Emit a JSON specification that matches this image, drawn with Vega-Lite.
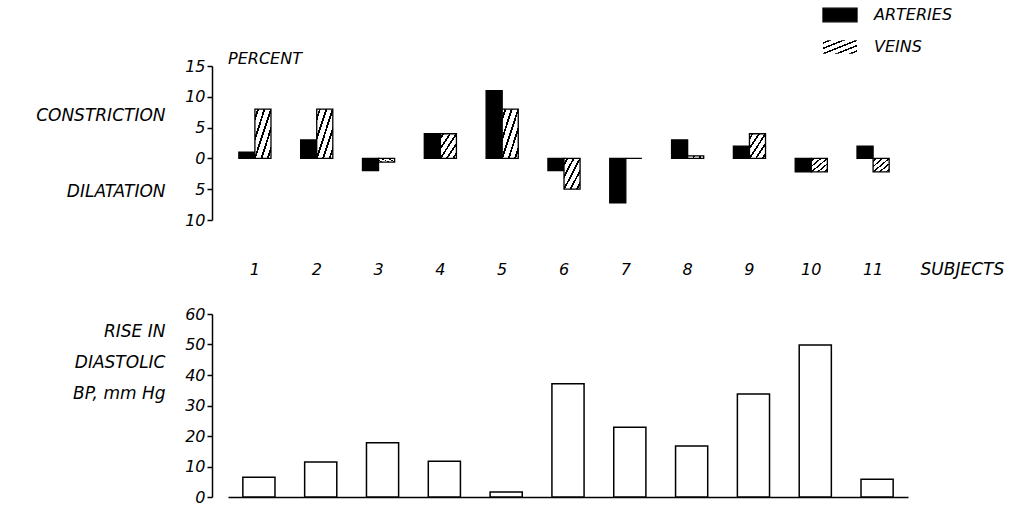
{
  "$schema": "https://vega.github.io/schema/vega-lite/v6.json",
  "padding": {"left": 35, "top": 7, "right": 5, "bottom": 5},
  "background": "white",
  "config": {
    "view": {"stroke": null},
    "font": "DejaVu Sans",
    "axis": {
      "labelFont": "DejaVu Sans", "labelFontStyle": "italic", "labelFontSize": 16, "labelColor": "black",
      "titleFont": "DejaVu Sans", "titleFontStyle": "italic", "titleFontWeight": "normal", "titleFontSize": 17, "titleColor": "black",
      "domainColor": "black", "tickColor": "black", "grid": false, "domainWidth": 1.5, "tickWidth": 1.5
    },
    "legend": {
      "labelFont": "DejaVu Sans", "labelFontStyle": "italic", "labelFontSize": 16, "labelColor": "black"
    },
    "concat": {"spacing": 29}
  },
  "datasets": {
    "pct": [
      {"subject": 1, "type": "ARTERIES", "value": 1},
      {"subject": 1, "type": "VEINS", "value": 8},
      {"subject": 2, "type": "ARTERIES", "value": 3},
      {"subject": 2, "type": "VEINS", "value": 8},
      {"subject": 3, "type": "ARTERIES", "value": -2},
      {"subject": 3, "type": "VEINS", "value": -0.6},
      {"subject": 4, "type": "ARTERIES", "value": 4},
      {"subject": 4, "type": "VEINS", "value": 4},
      {"subject": 5, "type": "ARTERIES", "value": 11},
      {"subject": 5, "type": "VEINS", "value": 8},
      {"subject": 6, "type": "ARTERIES", "value": -2},
      {"subject": 6, "type": "VEINS", "value": -5},
      {"subject": 7, "type": "ARTERIES", "value": -7.2},
      {"subject": 7, "type": "VEINS", "value": 0},
      {"subject": 8, "type": "ARTERIES", "value": 3},
      {"subject": 8, "type": "VEINS", "value": 0.4},
      {"subject": 9, "type": "ARTERIES", "value": 2},
      {"subject": 9, "type": "VEINS", "value": 4},
      {"subject": 10, "type": "ARTERIES", "value": -2.2},
      {"subject": 10, "type": "VEINS", "value": -2.2},
      {"subject": 11, "type": "ARTERIES", "value": 2},
      {"subject": 11, "type": "VEINS", "value": -2.2}
    ],
    "bp": [
      {"subject": 1, "rise": 6.5},
      {"subject": 2, "rise": 11.5},
      {"subject": 3, "rise": 17.8},
      {"subject": 4, "rise": 11.7},
      {"subject": 5, "rise": 1.6},
      {"subject": 6, "rise": 37.1},
      {"subject": 7, "rise": 22.9},
      {"subject": 8, "rise": 16.7},
      {"subject": 9, "rise": 33.8},
      {"subject": 10, "rise": 49.8},
      {"subject": 11, "rise": 5.8}
    ]
  },
  "vconcat": [
    {
      "width": 680,
      "height": 154,
      "title": {"text": "PERCENT", "anchor": "start", "frame": "group", "font": "DejaVu Sans", "fontSize": 16, "fontStyle": "italic", "fontWeight": "normal", "color": "black", "offset": -9, "dx": 4},
      "data": {"name": "pct"},
      "encoding": {
        "x": {
          "field": "subject", "type": "ordinal",
          "scale": {"paddingInner": 0.48, "paddingOuter": 0.24},
          "axis": {"orient": "bottom", "offset": 40, "domain": false, "ticks": false, "labelPadding": 1, "labelAngle": 0,
                   "title": "SUBJECTS", "titleX": 696, "titleY": 1, "titleAlign": "left", "titleBaseline": "top", "titleAngle": 0}
        },
        "xOffset": {"field": "type", "type": "nominal", "scale": {"domain": ["ARTERIES", "VEINS"], "paddingInner": 0, "paddingOuter": 0}},
        "y": {
          "field": "value", "type": "quantitative",
          "scale": {"domain": [-10, 15], "nice": false, "zero": false},
          "axis": {"values": [-10, -5, 0, 5, 10, 15], "labelExpr": "abs(datum.value)", "offset": 12, "tickSize": 5,
                   "title": ["CONSTRICTION", "DILATATION"], "titleAngle": 0, "titleAlign": "right", "titleBaseline": "alphabetic",
                   "titleX": -47, "titleY": 54, "titleLineHeight": 76}
        }
      },
      "layer": [
        {
          "transform": [{"filter": "datum.type === 'ARTERIES'"}],
          "mark": {"type": "bar", "fill": "black", "strokeWidth": 1.3},
          "encoding": {
            "stroke": {
              "field": "type", "type": "nominal",
              "scale": {"domain": ["ARTERIES"], "range": ["black"]},
              "legend": {"title": null, "orient": "none", "legendX": 608, "legendY": -59, "symbolType": "M-2.5,-1H2.5V1H-2.5Z", "symbolSize": 185,
                         "symbolStrokeWidth": 1.3, "labelOffset": 26}
            }
          }
        },
        {
          "transform": [{"filter": "datum.type === 'VEINS'"}],
          "mark": {"type": "bar", "stroke": "black", "strokeWidth": 1.3, "fill": {"gradient": "linear", "x1": 0, "y1": 0, "x2": 1, "y2": 1,
            "stops": [
              {"offset": 0, "color": "white"}, {"offset": 0.07, "color": "white"}, {"offset": 0.07, "color": "black"}, {"offset": 0.13, "color": "black"}, {"offset": 0.13, "color": "white"},
              {"offset": 0.27, "color": "white"}, {"offset": 0.27, "color": "black"}, {"offset": 0.33, "color": "black"}, {"offset": 0.33, "color": "white"},
              {"offset": 0.47, "color": "white"}, {"offset": 0.47, "color": "black"}, {"offset": 0.53, "color": "black"}, {"offset": 0.53, "color": "white"},
              {"offset": 0.67, "color": "white"}, {"offset": 0.67, "color": "black"}, {"offset": 0.73, "color": "black"}, {"offset": 0.73, "color": "white"},
              {"offset": 0.87, "color": "white"}, {"offset": 0.87, "color": "black"}, {"offset": 0.93, "color": "black"}, {"offset": 0.93, "color": "white"},
              {"offset": 1, "color": "white"}]}},
          "encoding": {
            "opacity": {
              "field": "type", "type": "ordinal",
              "scale": {"domain": ["VEINS"], "range": [1]},
              "legend": {"title": null, "orient": "none", "legendX": 608, "legendY": -27, "symbolType": "M-2.5,-1H2.5V1H-2.5Z", "symbolSize": 185,
                         "symbolStrokeColor": "black", "symbolStrokeWidth": 1.3, "labelOffset": 26,
                         "encode": {"symbols": {"stroke": {"value": "black"}, "strokeWidth": {"value": 1.3}}}}
            }
          }
        },
        {
          "data": {"values": [{}]},
          "mark": {"type": "rule", "color": "black", "strokeWidth": 1.5},
          "encoding": {"y": {"datum": 0}, "x": null, "xOffset": null}
        }
      ]
    },
    {
      "width": 686,
      "height": 183,
      "data": {"name": "bp"},
      "mark": {"type": "bar", "fill": "white", "stroke": "black", "strokeWidth": 1.5},
      "encoding": {
        "x": {
          "field": "subject", "type": "ordinal",
          "scale": {"paddingInner": 0.48, "paddingOuter": 0.24, "range": [4, 684]},
          "axis": {"labels": false, "ticks": false, "title": null, "domain": true}
        },
        "y": {
          "field": "rise", "type": "quantitative",
          "scale": {"domain": [0, 60], "nice": false},
          "axis": {"values": [0, 10, 20, 30, 40, 50, 60], "offset": 12, "tickSize": 5,
                   "title": ["RISE IN", "DIASTOLIC", "BP, mm Hg"], "titleAngle": 0, "titleAlign": "right", "titleBaseline": "alphabetic",
                   "titleX": -47, "titleY": 22, "titleLineHeight": 31}
        }
      }
    }
  ]
}
